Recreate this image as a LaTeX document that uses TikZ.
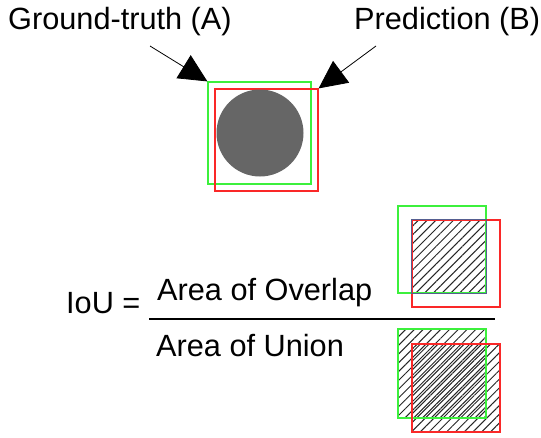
\documentclass[tikz,border=0pt]{standalone}
\usepackage{fontspec}
\setmainfont{Liberation Sans}
\usetikzlibrary{arrows.meta,patterns.meta}
\definecolor{gtgreen}{RGB}{60,240,60}
\definecolor{prred}{RGB}{250,40,40}
\definecolor{objgray}{RGB}{102,102,102}
\definecolor{ovline}{RGB}{85,95,145}
\tikzset{
  lbl/.style={font=\fontsize{30.7}{36}\selectfont, inner sep=0pt, anchor=base west},
  gbox/.style={draw=gtgreen, line width=#1, inner sep=0pt},
  rbox/.style={draw=prred, line width=#1, inner sep=0pt},
  arr/.style={line width=0.8pt, -{Triangle[length=28pt,width=27pt]}},
  hatchA/.style={pattern={Lines[angle=45,distance=6.2pt,line width=1pt]}, pattern color=black!85},
  hatchB/.style={pattern={Lines[angle=45,distance=6.2pt,line width=1pt,xshift=3.1pt]}, pattern color=black!85},
}
\begin{document}
\begin{tikzpicture}[x=1pt,y=-1pt]
\useasboundingbox (0,0) rectangle (541,437);
% labels
\node[lbl] (tA) at (8,29) {Ground-truth (A)};
\node[lbl] (tB) at (354,29) {Prediction (B)};
% top figure
\node[gbox=1.2pt, minimum width=103pt, minimum height=102pt] (gA) at (259.5,133) {};
\node[rbox=1.2pt, minimum width=103pt, minimum height=102pt] (pB) at (266.5,140) {};
\node[circle, fill=objgray, minimum size=87pt, inner sep=0pt] (obj) at (260,133) {};
\coordinate (sA) at (150,46);
\coordinate (sB) at (376,46);
\draw[arr] (sA) -- (gA.north west);
\draw[arr] (sB) -- (pB.north east);
% formula
\node[lbl] (iou) at (66,313) {IoU =};
\node[lbl] (num) at (157,300) {Area of Overlap};
\node[lbl] (den) at (156,356) {Area of Union};
\draw[line width=2pt] (149,319) -- (495,319);
% overlap illustration
\node[minimum width=88pt, minimum height=87pt, inner sep=0pt] (G1) at (442,249.5) {};
\node[minimum width=88pt, minimum height=87pt, inner sep=0pt] (R1) at (456,263.5) {};
\fill[hatchA] (R1.north west) rectangle (G1.south east);
\draw[gtgreen, line width=1.8pt] (G1.north west) rectangle (G1.south east);
\draw[prred, line width=1.8pt] (R1.north west) rectangle (R1.south east);
\draw[ovline, line width=0.9pt] (R1.north west) rectangle (G1.south east);
% union illustration
\node[minimum width=88pt, minimum height=89pt, inner sep=0pt] (G2) at (442,373.5) {};
\node[minimum width=88pt, minimum height=88pt, inner sep=0pt] (R2) at (456,388) {};
\fill[hatchA] (G2.north west) rectangle (G2.south east);
\fill[hatchB] (R2.north west) rectangle (R2.south east);
\draw[gtgreen, line width=1.8pt] (G2.north west) rectangle (G2.south east);
\draw[prred, line width=1.8pt] (R2.north west) rectangle (R2.south east);
\end{tikzpicture}
\end{document}
